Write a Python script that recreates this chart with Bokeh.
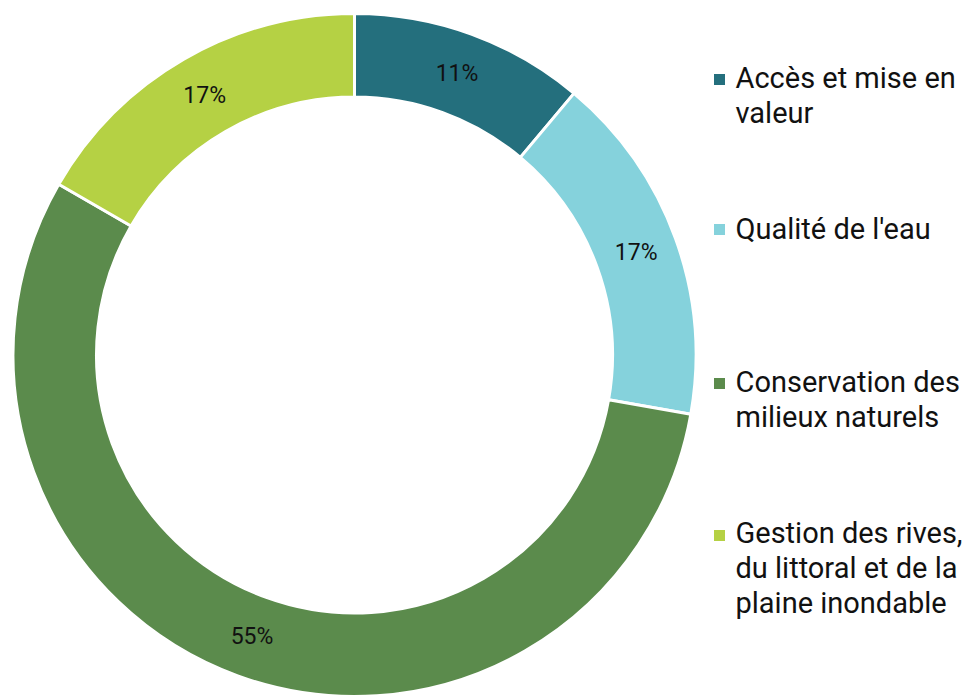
import math
from bokeh.plotting import figure
from bokeh.models import ColumnDataSource, Range1d
from bokeh.core.properties import value
from bokeh.embed import file_html
from bokeh.resources import INLINE

# ---- data ----
categories = ["Accès et mise en\nvaleur", "Qualité de l'eau",
              "Conservation des\nmilieux naturels",
              "Gestion des rives,\ndu littoral et de la\nplaine inondable"]
counts = [2, 3, 10, 3]
pct_labels = ["11%", "17%", "55%", "17%"]
colors = ["#246F7D", "#85D2DC", "#5B8B4C", "#B5D144"]

W, H = 969, 698
def dx(X): return X
def dy(Y): return H - Y

cx, cy = dx(354), dy(354.5)
R_out, R_in = 341.5, 258

total = sum(counts)
starts, ends, mids = [], [], []
acc = 0
for c in counts:
    a0 = math.pi / 2 - 2 * math.pi * acc / total
    acc += c
    a1 = math.pi / 2 - 2 * math.pi * acc / total
    starts.append(a0); ends.append(a1); mids.append((a0 + a1) / 2)

src = ColumnDataSource(dict(start=starts, end=ends, color=colors))

p = figure(width=W, height=H, output_backend="svg", toolbar_location=None,
           x_range=Range1d(0, W), y_range=Range1d(0, H), min_border=0)
p.axis.visible = False
p.grid.visible = False
p.outline_line_color = None
p.background_fill_color = "white"

p.annular_wedge(x=cx, y=cy, inner_radius=R_in, outer_radius=R_out,
                start_angle="start", end_angle="end", direction="clock",
                fill_color="color", line_color="white", line_width=3, source=src)

rl = (R_in + R_out) / 2
lab = ColumnDataSource(dict(x=[cx + rl * math.cos(m) for m in mids],
                            y=[cy + rl * math.sin(m) for m in mids],
                            t=pct_labels))
p.text(x="x", y="y", text="t", source=lab, text_align="center",
       text_baseline="middle", text_font=value("Roboto"),
       text_font_size="23px", text_color="#111111")

# legend
sq_y = [79, 229, 383, 535]
base_y = [77, 228, 381, 532]
line_h = 35
lx, ly, lt = [], [], []
for i, cat in enumerate(categories):
    for j, line in enumerate(cat.split("\n")):
        lx.append(dx(735)); ly.append(dy(base_y[i] + j * line_h)); lt.append(line)
p.rect(x=[dx(719)] * 4, y=[dy(v) for v in sq_y], width=11, height=11,
       fill_color=colors, line_color=None)
p.text(x=lx, y=ly, text=lt, text_align="left", text_baseline="alphabetic",
       text_font=value("Roboto"), text_font_size="29px", text_color="#111111")

open("out.html", "w").write(file_html(p, INLINE))
